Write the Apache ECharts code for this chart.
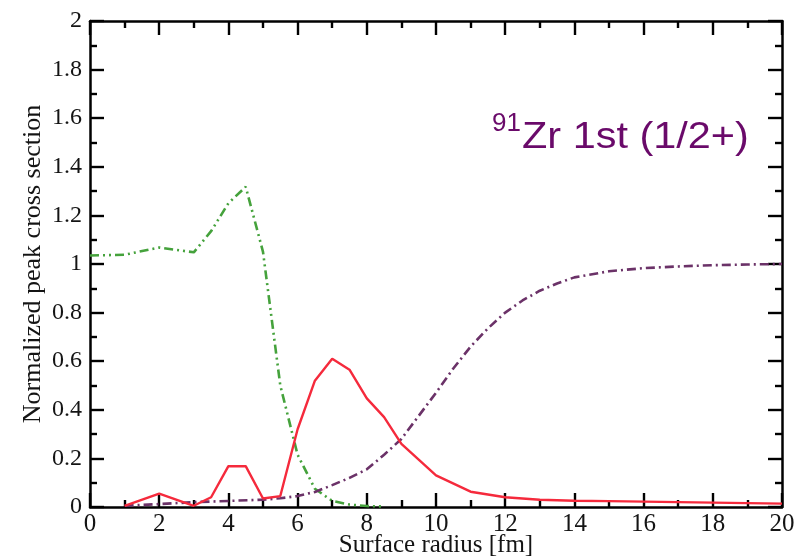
<!DOCTYPE html>
<html>
<head>
<meta charset="utf-8">
<script src="https://cdn.jsdelivr.net/npm/echarts@6/dist/echarts.min.js"></script>
<style>
  html, body { margin: 0; padding: 0; background: #ffffff; }
  #chart { width: 801px; height: 560px; }
</style>
</head>
<body>
<div id="chart"></div>
<script>
// Normalized peak cross section versus surface radius, 91Zr first state (1/2+)
const xTicks = [0, 2, 4, 6, 8, 10, 12, 14, 16, 18, 20];
const yTicks = [0, 0.2, 0.4, 0.6, 0.8, 1, 1.2, 1.4, 1.6, 1.8, 2];

// solid red curve
const redRadius = [1, 2, 3, 3.5, 4, 4.5, 5, 5.5, 6, 6.5, 7, 7.5, 8, 8.5, 9, 10, 11, 12, 13, 14, 15, 16, 17, 18, 19, 20];
const redValues = [0.005, 0.055, 0.005, 0.04, 0.168, 0.168, 0.035, 0.045, 0.32, 0.52, 0.61, 0.565, 0.447, 0.37, 0.26, 0.13, 0.063, 0.04, 0.03, 0.026, 0.024, 0.022, 0.02, 0.018, 0.016, 0.014];

// green dash-dot-dot curve
const greenRadius = [0, 1, 2, 3, 3.5, 4, 4.5, 5, 5.5, 6, 6.5, 7, 7.5, 8, 8.5];
const greenValues = [1.035, 1.038, 1.068, 1.048, 1.135, 1.25, 1.318, 1.05, 0.5, 0.215, 0.075, 0.025, 0.01, 0.004, 0.002];

// purple dash-dot curve
const purpleRadius = [1, 2, 3, 4, 5, 5.5, 6, 6.5, 7, 7.5, 8, 8.5, 9, 9.5, 10, 10.5, 11, 11.5, 12, 12.5, 13, 13.5, 14, 15, 16, 17, 18, 19, 20];
const purpleValues = [0.005, 0.012, 0.02, 0.025, 0.03, 0.036, 0.045, 0.062, 0.09, 0.12, 0.155, 0.215, 0.28, 0.375, 0.47, 0.57, 0.66, 0.735, 0.8, 0.85, 0.89, 0.92, 0.945, 0.97, 0.983, 0.99, 0.995, 0.998, 1.0];

const pairs = (xs, ys) => xs.map((x, i) => [x, ys[i]]);

const serif = 'Liberation Serif';
const sans = 'Liberation Sans';
const axisColor = '#000000';
const textColor = '#141414';

function xAxisBase(position, showLabels) {
  return {
    type: 'value',
    position: position,
    min: xTicks[0],
    max: xTicks[xTicks.length - 1],
    interval: xTicks[1] - xTicks[0],
    axisLine: { show: true, onZero: false, lineStyle: { color: axisColor, width: 2.5 } },
    axisTick: { show: true, inside: true, length: 14, lineStyle: { color: axisColor, width: 2.4 } },
    minorTick: { show: true, splitNumber: 2, length: 7, lineStyle: { color: axisColor, width: 2.4 } },
    splitLine: { show: false },
    minorSplitLine: { show: false },
    axisLabel: {
      show: showLabels, margin: 5,
      fontFamily: serif, fontSize: 25, color: textColor
    }
  };
}

function yAxisBase(position, showLabels) {
  return {
    type: 'value',
    position: position,
    min: yTicks[0],
    max: yTicks[yTicks.length - 1],
    interval: 0.2,
    axisLine: { show: true, onZero: false, lineStyle: { color: axisColor, width: 2.5 } },
    axisTick: { show: true, inside: true, length: 14, lineStyle: { color: axisColor, width: 2.4 } },
    minorTick: { show: true, splitNumber: 2, length: 7, lineStyle: { color: axisColor, width: 2.4 } },
    splitLine: { show: false },
    minorSplitLine: { show: false },
    axisLabel: {
      show: showLabels, margin: 8,
      fontFamily: serif, fontSize: 24, color: textColor
    }
  };
}

const xBottom = Object.assign(xAxisBase('bottom', true), {
  name: 'Surface radius [fm]',
  nameLocation: 'middle',
  nameGap: 26,
  nameMoveOverlap: false,
  nameTextStyle: { fontFamily: serif, fontSize: 25, color: textColor }
});
const xTop = xAxisBase('top', false);

const yLeft = Object.assign(yAxisBase('left', true), {
  name: 'Normalized peak cross section',
  nameLocation: 'middle',
  nameRotate: 90,
  nameGap: 44,
  nameMoveOverlap: false,
  nameTextStyle: { fontFamily: serif, fontSize: 26, color: textColor }
});
const yRight = yAxisBase('right', false);

const chart = echarts.init(document.getElementById('chart'), null, { renderer: 'canvas' });

chart.setOption({
  backgroundColor: '#ffffff',
  animation: false,
  textStyle: { fontFamily: serif },
  grid: { left: 90, right: 19, top: 21, bottom: 53, containLabel: false, outerBoundsMode: 'none' },
  xAxis: [xBottom, xTop],
  yAxis: [yLeft, yRight],
  series: [
    {
      name: 'green',
      type: 'line',
      xAxisIndex: 0, yAxisIndex: 0,
      data: pairs(greenRadius, greenValues),
      showSymbol: false, symbol: 'none',
      lineStyle: { color: '#45a23c', width: 2.6, type: [9, 4, 2, 4, 2, 4] },
      z: 3
    },
    {
      name: 'purple',
      type: 'line',
      xAxisIndex: 0, yAxisIndex: 0,
      data: pairs(purpleRadius, purpleValues),
      showSymbol: false, symbol: 'none',
      lineStyle: { color: '#6b3268', width: 2.6, type: [9, 4, 2, 4] },
      z: 3
    },
    {
      name: 'red',
      type: 'line',
      xAxisIndex: 0, yAxisIndex: 0,
      data: pairs(redRadius, redValues),
      showSymbol: false, symbol: 'none',
      lineStyle: { color: '#f52a3c', width: 2.4, type: 'solid' },
      z: 4
    }
  ],
  graphic: [
    {
      type: 'text',
      x: 492, y: 124,
      style: {
        text: '91',
        fontFamily: sans,
        fontSize: 26,
        fill: '#6a0a6a',
        align: 'left',
        verticalAlign: 'middle'
      }
    },
    {
      type: 'text',
      x: 522, y: 138,
      scaleX: 1.12,
      style: {
        text: 'Zr 1st (1/2+)',
        fontFamily: sans,
        fontSize: 37,
        fill: '#6a0a6a',
        align: 'left',
        verticalAlign: 'middle'
      }
    }
  ]
});
</script>
</body>
</html>
